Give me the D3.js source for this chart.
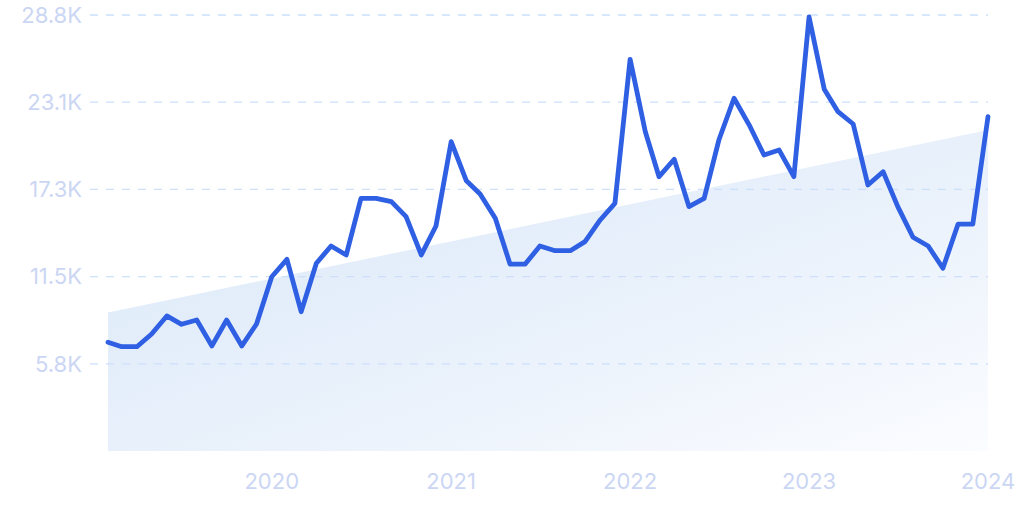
<!DOCTYPE html>
<html>
<head>
<meta charset="utf-8">
<script src="https://cdn.jsdelivr.net/npm/d3@7"></script>
<style>
  html, body { margin: 0; padding: 0; background: #fff; }
  #vis { width: 1024px; height: 512px; }
</style>
</head>
<body>
<div id="vis"></div>
<script>
// valores mensuales (K), feb 2019 -> ene 2024
const START_MONTH = "2019-02";
const VALUES = [
  7.18, 6.89, 6.89, 7.73, 8.92, 8.37, 8.65, 6.94, 8.65, 6.94, 8.39,
  11.51, 12.66, 9.20, 12.40, 13.54, 12.95, 16.69, 16.69, 16.47, 15.48, 12.95, 14.86,
  20.43, 17.85, 16.98, 15.37, 12.35, 12.35, 13.54, 13.23, 13.23, 13.83, 15.26, 16.36,
  25.87, 21.09, 18.12, 19.27, 16.14, 16.69, 20.54, 23.30, 21.53, 19.55, 19.88, 18.12,
  28.67, 23.89, 22.41, 21.60, 17.57, 18.45, 16.14, 14.12, 13.54, 12.07, 14.99, 14.99,
  22.08
];
// linea de tendencia (inicio, fin)
const TREND = [9.15, 21.2];
const Y_TICKS = [5.76, 11.52, 17.28, 23.04, 28.8];
const Y_TICK_LABELS = ["5.8K", "11.5K", "17.3K", "23.1K", "28.8K"];
const X_TICKS = ["2020", "2021", "2022", "2023", "2024"];

const SVG_WIDTH = 1024;
const SVG_HEIGHT = 512;
const MARGIN = { top: 15, bottom: 61, left: 108, right: 36 };

const SVG = d3.select("#vis").append("svg")
  .attr("width", SVG_WIDTH).attr("height", SVG_HEIGHT);

const parseMonth = d3.timeParse("%Y-%m");
const start = parseMonth(START_MONTH);
const datos = VALUES.map((v, i) => ({ date: d3.timeMonth.offset(start, i), value: v }));

const x = d3.scaleTime()
  .domain(d3.extent(datos, d => d.date))
  .range([MARGIN.left, SVG_WIDTH - MARGIN.right]);

const y = d3.scaleLinear()
  .domain([0, 28.8])
  .range([SVG_HEIGHT - MARGIN.bottom, MARGIN.top]);

// gradiente del area
const defs = SVG.append("defs");
const grad = defs.append("linearGradient")
  .attr("id", "areaGrad")
  .attr("x1", "0%").attr("y1", "0%")
  .attr("x2", "100%").attr("y2", "100%");
grad.append("stop").attr("offset", "0%").attr("stop-color", "#dae8f9");
grad.append("stop").attr("offset", "55%").attr("stop-color", "#e9f1fb");
grad.append("stop").attr("offset", "100%").attr("stop-color", "#fbfcff");

// area de tendencia
const trendData = [
  { date: datos[0].date, value: TREND[0] },
  { date: datos[datos.length - 1].date, value: TREND[1] }
];
SVG.append("path")
  .datum(trendData)
  .attr("fill", "url(#areaGrad)")
  .attr("d", d3.area()
    .x(d => x(d.date))
    .y0(y(0))
    .y1(d => y(d.value)));

// grilla horizontal
SVG.append("g")
  .selectAll("line")
  .data(Y_TICKS)
  .join("line")
  .attr("x1", 90)
  .attr("x2", SVG_WIDTH - MARGIN.right)
  .attr("y1", d => y(d))
  .attr("y2", d => y(d))
  .attr("stroke", "#cce0fb")
  .attr("stroke-width", 1.3)
  .attr("stroke-dasharray", "8,8");

// eje Y
SVG.append("g")
  .selectAll("text")
  .data(Y_TICKS)
  .join("text")
  .attr("x", 82)
  .attr("y", d => y(d))
  .attr("dy", "0.35em")
  .attr("text-anchor", "end")
  .style("font-family", "Inter, 'Noto Sans', sans-serif")
  .style("font-size", "22px")
  .style("fill", "#cbd6f4")
  .text((d, i) => Y_TICK_LABELS[i]);

// eje X
SVG.append("g")
  .selectAll("text")
  .data(X_TICKS)
  .join("text")
  .attr("x", d => x(parseMonth(d + "-01")))
  .attr("y", 489)
  .attr("text-anchor", "middle")
  .style("font-family", "Inter, 'Noto Sans', sans-serif")
  .style("font-size", "22px")
  .style("fill", "#cbd6f4")
  .text(d => d);

// linea principal
SVG.append("path")
  .datum(datos)
  .attr("fill", "none")
  .attr("stroke", "#2f5fe3")
  .attr("stroke-width", 4.8)
  .attr("stroke-linejoin", "round")
  .attr("stroke-linecap", "round")
  .attr("d", d3.line()
    .x(d => x(d.date))
    .y(d => y(d.value)));
</script>
</body>
</html>
